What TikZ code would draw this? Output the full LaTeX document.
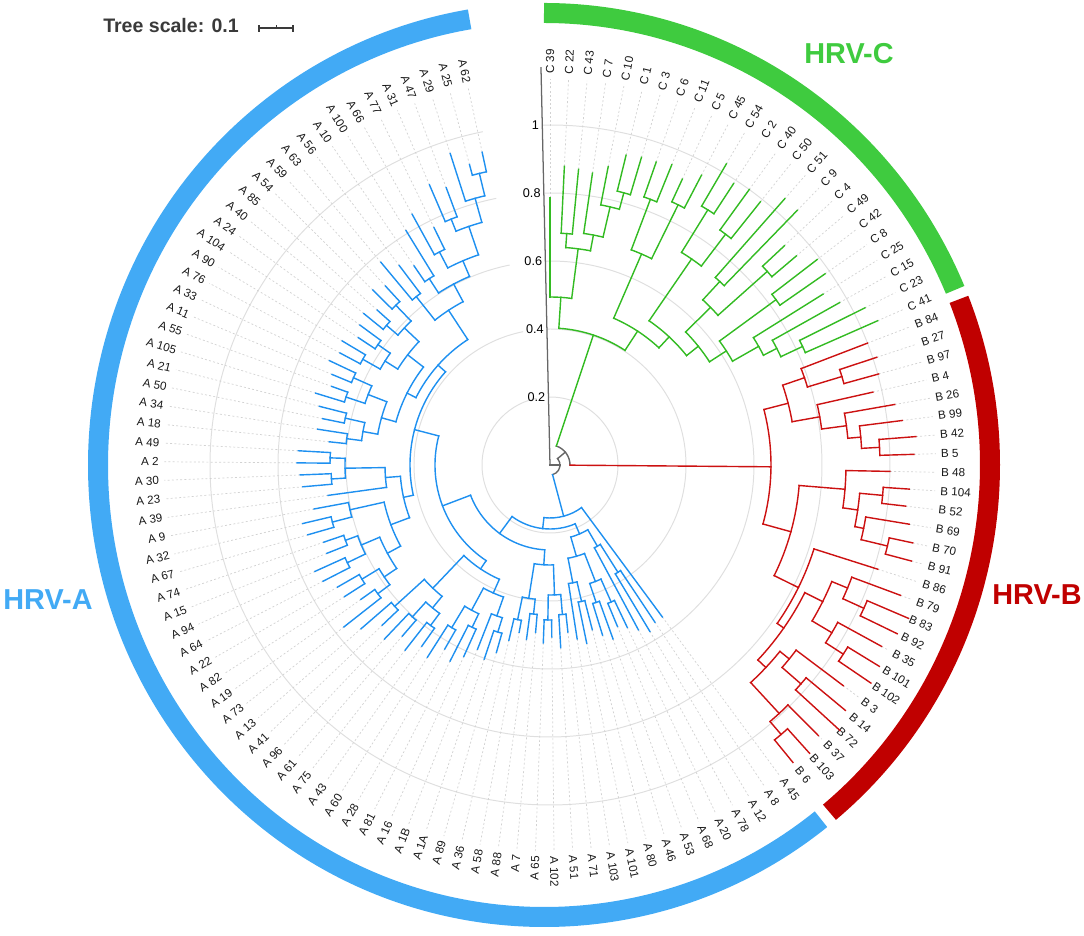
\documentclass[tikz,border=0pt]{standalone}
\usepackage{fontspec}
\setmainfont{Liberation Sans}
\usetikzlibrary{calc}
\definecolor{hrvablue}{HTML}{42AAF5}
\definecolor{hrvabranch}{HTML}{1E90F0}
\definecolor{hrvcgreen}{HTML}{3FCB3F}
\definecolor{hrvcbranch}{HTML}{33BB22}
\definecolor{hrvbred}{HTML}{C00000}
\definecolor{hrvbbranch}{HTML}{CC1111}
\definecolor{scalegrey}{HTML}{3A3A3A}

\begin{document}
\begin{tikzpicture}[scale=0.025,
      branch/.style={line width=1pt, line cap=rect},
      ring/.style={gray!25, line width=0.7pt},
      leader/.style={gray!35, line width=0.5pt, dash pattern=on 1.4pt off 1.6pt},
      leaf/.style={font=\fontsize{8.3}{10}\selectfont, inner sep=0pt, text=black!90},
      axislab/.style={font=\fontsize{9}{11}\selectfont, inner sep=0pt, anchor=east},
      band/.style={line width=0.5cm},
      cladelab/.style={font=\bfseries\fontsize{20.5}{24}\selectfont, inner sep=0pt}]
    \useasboundingbox (-550,-471) rectangle (534,465);

    % distance rings and axis
    \foreach \r in {68,136,204,272,340}
      \draw[ring] (91.3:\r) arc[start angle=91.3, end angle=-258.6, radius=\r];
    \draw[gray!80!black, line width=0.9pt] (0,0) -- (91.3:398);
    \foreach \v/\r in {0.2/68, 0.4/136, 0.6/204, 0.8/272, 1/340} {
      \pgfmathsetmacro\lx{-0.0227*\r-3}
      \node[axislab] (tick\r) at (\lx,\r) {\v};
    }

    % leaves: leader lines and labels
    \foreach \i/\n/\t in {0/C 39/267, 1/C 22/299, 2/C 43/297, 3/C 7/295, 4/C 10/304, 5/C 1/319, 6/C 3/321, 7/C 6/321, 8/C 11/324, 9/C 5/315, 10/C 45/327, 11/C 54/349, 12/C 2/336, 13/C 40/340, 14/C 50/337, 15/C 51/355, 16/C 9/355, 17/C 4/321, 18/C 49/323, 19/C 42/337, 20/C 8/335, 21/C 25/322, 22/C 15/332, 23/C 23/352, 24/C 41/358,
      25/B 84/340, 26/B 27/344, 27/B 97/341, 28/B 4/331, 29/B 26/350, 30/B 99/355, 31/B 42/367, 32/B 5/364, 33/B 48/340, 34/B 104/360, 35/B 52/358, 36/B 69/364, 37/B 70/371, 38/B 91/374, 39/B 86/344, 40/B 79/374, 41/B 83/390, 42/B 92/386, 43/B 35/378, 44/B 101/386, 45/B 102/388, 46/B 3/367, 47/B 14/384, 48/B 72/393, 49/B 37/381, 50/B 103/388, 51/B 6/384,
      52/A 45/189, 53/A 8/189, 54/A 12/194, 55/A 78/187, 56/A 20/180, 57/A 68/175, 58/A 53/185, 59/A 46/178, 60/A 80/170, 61/A 101/182, 62/A 103/176, 63/A 71/168, 64/A 51/183, 65/A 102/172, 66/A 65/178, 67/A 7/168, 68/A 88/176, 69/A 58/170, 70/A 36/180,
      71/A 89/195, 72/A 1A/205, 73/A 1B/198, 74/A 16/210, 75/A 81/220, 76/A 28/212, 77/A 60/228, 78/A 43/222, 79/A 75/235, 80/A 61/226, 81/A 96/240, 82/A 41/232, 83/A 13/250,
      84/A 73/262, 85/A 19/232, 86/A 82/244, 87/A 22/245, 88/A 64/255, 89/A 94/258, 90/A 15/240, 91/A 74/239, 92/A 67/252, 93/A 32/254, 94/A 9/240, 95/A 39/224, 96/A 23/248, 97/A 30/250, 98/A 2/253, 99/A 49/252,
      100/A 18/222, 101/A 34/235, 102/A 50/232, 103/A 21/238, 104/A 105/245, 105/A 55/232, 106/A 11/236, 107/A 33/244, 108/A 76/238, 109/A 90/242, 110/A 104/230, 111/A 24/236, 112/A 40/240, 113/A 85/232, 114/A 54/249, 115/A 59/243,
      116/A 63/264, 117/A 56/250, 118/A 10/241, 119/A 100/275, 120/A 66/286, 121/A 77/264, 122/A 31/305, 123/A 47/296, 124/A 29/327, 125/A 25/311, 126/A 62/320} {
      \pgfmathsetmacro\a{90-2.76*\i}
      \ifdim\t pt<384pt \draw[leader] (\a:\t) -- (\a:386); \fi
      \ifdim\a pt<-90pt
        \pgfmathsetmacro\rot{\a+180}
        \node[leaf, rotate=\rot, anchor=east] (leaf\i) at (\a:391) {\n};
      \else
        \node[leaf, rotate=\a, anchor=west] (leaf\i) at (\a:391) {\n};
      \fi
    }

    % root
    \draw[branch, gray!80!black] (0,0) -- (0:10);
    \draw[branch, gray!80!black] (-75.05:10) arc[start angle=-75.05, end angle=40, radius=10];
    \draw[branch, gray!80!black] (40:10) -- (40:20);
    \draw[branch, gray!80!black] (71.54:20) arc[start angle=71.54, end angle=-0.47, radius=20];

    % HRV-C
    \foreach \p/\r/\s in {1/232/299, 2/232/297, 5/282/319, 6/282/321, 4/265/304, 5.5/265/282, 3/234/295, 4.75/234/265, 1.5/218/232, 3.875/218/234, 0/168/267, 2.6875/168/218, 7/284/321, 8/284/324, 9/290/315, 10/290/327, 7.5/230/284, 9.5/230/290, 11/300/349, 12/300/336, 13/290/340, 14/290/337, 11.5/250/300, 13.5/250/290, 15/250/355, 16/250/355, 17/291/321, 18/291/323, 15.5/225/250, 17.5/225/291, 19/280/337, 20/280/335, 23/279/352, 24/279/358, 22/255/332, 23.5/255/279, 21/240/322, 22.75/240/255, 19.5/210/280, 21.875/210/240, 16.5/190/225, 20.6875/190/210, 12.5/175/250, 18.59/175/190, 8.5/160/230, 15.55/160/175, 1.34/137/168, 12.03/137/160, 6.69/20/137} {
      \pgfmathsetmacro\a{90-2.76*\p}
      \draw[branch, hrvcbranch] (\a:\r) -- (\a:\s);
    }
    \foreach \r/\p/\q in {232/1/2, 282/5/6, 265/4/5.5, 234/3/4.75, 218/1.5/3.875, 168/0/2.6875, 284/7/8, 290/9/10, 230/7.5/9.5, 300/11/12, 290/13/14, 250/11.5/13.5, 250/15/16, 291/17/18, 225/15.5/17.5, 280/19/20, 279/23/24, 255/22/23.5, 240/21/22.75, 210/19.5/21.875, 190/16.5/20.6875, 175/12.5/18.59, 160/8.5/15.55, 137/1.34/12.03} {
      \pgfmathsetmacro\a{90-2.76*\p}
      \pgfmathsetmacro\b{90-2.76*\q}
      \draw[branch, hrvcbranch] (\a:\r) arc[start angle=\a, end angle=\b, radius=\r];
    }

    % HRV-B
    \foreach \p/\r/\s in {26/305/344, 27/305/341, 25/269/340, 26.5/269/305, 31/330/367, 32/330/364, 30/312/355, 31.5/312/330, 29/299/350, 30.75/299/312, 28/274/331, 29.875/274/299, 25.75/246/269, 28.9375/246/274, 34/334/360, 35/334/358, 37/347/371, 38/347/374, 36/320/364, 37.5/320/347, 34.5/311/334, 36.75/311/320, 33/296/340, 35.625/296/311, 41/345/390, 42/345/386, 40/322/374, 41.5/322/345, 44/349/386, 45/349/388, 43/328/378, 44.5/328/349, 40.75/305/322, 43.75/305/328, 47/333/384, 48/333/393, 46/308/367, 47.5/308/333, 50/355/388, 51/355/384, 49/338/381, 50.5/338/355, 46.75/296/308, 49.75/296/338, 42.25/285/305, 48.25/285/296, 39/277/344, 45.25/277/285, 34.3125/250/296, 42.125/250/277, 27.34/221/246, 38.22/221/250, 32.78/20/221} {
      \pgfmathsetmacro\a{90-2.76*\p}
      \draw[branch, hrvbbranch] (\a:\r) -- (\a:\s);
    }
    \foreach \r/\p/\q in {305/26/27, 269/25/26.5, 330/31/32, 312/30/31.5, 299/29/30.75, 274/28/29.875, 246/25.75/28.9375, 334/34/35, 347/37/38, 320/36/37.5, 311/34.5/36.75, 296/33/35.625, 345/41/42, 322/40/41.5, 349/44/45, 328/43/44.5, 305/40.75/43.75, 333/47/48, 308/46/47.5, 355/50/51, 338/49/50.5, 296/46.75/49.75, 285/42.25/48.25, 277/39/45.25, 250/34.3125/42.125, 221/27.34/38.22} {
      \pgfmathsetmacro\a{90-2.76*\p}
      \pgfmathsetmacro\b{90-2.76*\q}
      \draw[branch, hrvbbranch] (\a:\r) arc[start angle=\a, end angle=\b, radius=\r];
    }

    % HRV-A
    \foreach \p/\r/\s in {53/127/189, 54/127/194, 53.5/94/127, 55/94/187, 56/150/180, 57/150/175, 58/145/185, 59/145/178, 56.5/125/150, 58.5/125/145, 60/140/170, 61/140/182, 60.5/120/140, 62/120/176, 57.5/95/125, 61.25/95/120, 54.25/75/94, 59.375/75/95,
        63/150/168, 64/150/183, 65/155/172, 66/155/178, 63.5/130/150, 65.5/130/155, 67/150/168, 68/150/176, 69/158/170, 70/158/180, 67.5/135/150, 69.5/135/158, 64.5/100/130, 68.5/100/135,
        71/175/195, 72/175/205, 71.5/160/175, 73/160/198, 74/180/210, 75/180/220, 76/190/212, 77/190/228, 74.5/165/180, 76.5/165/190, 72.25/140/160, 75.5/140/165, 78/200/222, 79/200/235, 80/205/226, 81/205/240, 78.5/185/200, 80.5/185/205, 82/210/232, 83/210/250, 79.5/170/185, 82.5/170/210, 73.875/125/140, 81/125/170,
        84/215/262, 85/215/232, 86/220/244, 87/220/245, 84.5/200/215, 86.5/200/220, 88/225/255, 89/225/258, 90/218/240, 91/218/239, 88.5/205/225, 90.5/205/218, 85.5/185/200, 89.5/185/205, 92/225/252, 93/225/254, 92.5/205/225, 94/205/240, 87.5/170/185, 93.25/170/205, 96/219/248, 97/219/250, 98/220/253, 99/220/252, 96.5/205/219, 98.5/205/220, 95/165/224, 97.5/165/205, 90.375/150/170, 96.25/150/165,
        100/205/222, 101/205/235, 102/210/232, 103/210/238, 100.5/190/205, 102.5/190/210, 104/215/245, 105/215/232, 106/215/236, 107/215/244, 104.5/195/215, 106.5/195/215, 101.5/175/190, 105.5/175/195, 108/215/238, 109/215/242, 110/210/230, 111/210/236, 108.5/195/215, 110.5/195/210, 112/215/240, 113/215/232, 114/222/249, 115/222/243, 112.5/200/215, 114.5/200/222, 109.5/180/195, 113.5/180/200, 103.5/160/175, 111.5/160/180,
        125/300/311, 126/300/320, 124/277/327, 125.5/277/300, 122/265/305, 123/265/296, 122.5/252/265, 124.75/252/277, 120/240/286, 121/240/264, 120.5/222/240, 123.625/222/252, 118/222/241, 119/222/275, 118.5/205/222, 122.0625/205/222, 116/215/264, 117/215/250, 116.5/185/215, 120.28/185/205, 107.5/150/160, 118.39/150/185,
        93.3125/140/150, 112.945/140/150, 77.4375/115/125, 103.13/115/140, 66.5/85/100, 90.28/85/115, 56.8125/64/75, 78.39/64/85, 52/53/189, 67.6/53/64, 59.8/10/53} {
      \pgfmathsetmacro\a{90-2.76*\p}
      \draw[branch, hrvabranch] (\a:\r) -- (\a:\s);
    }
    \foreach \r/\p/\q in {127/53/54, 94/53.5/55, 150/56/57, 145/58/59, 125/56.5/58.5, 140/60/61, 120/60.5/62, 95/57.5/61.25, 75/54.25/59.375,
        150/63/64, 155/65/66, 130/63.5/65.5, 150/67/68, 158/69/70, 135/67.5/69.5, 100/64.5/68.5,
        175/71/72, 160/71.5/73, 180/74/75, 190/76/77, 165/74.5/76.5, 140/72.25/75.5, 200/78/79, 205/80/81, 185/78.5/80.5, 210/82/83, 170/79.5/82.5, 125/73.875/81,
        215/84/85, 220/86/87, 200/84.5/86.5, 225/88/89, 218/90/91, 205/88.5/90.5, 185/85.5/89.5, 225/92/93, 205/92.5/94, 170/87.5/93.25, 219/96/97, 220/98/99, 205/96.5/98.5, 165/95/97.5, 150/90.375/96.25,
        205/100/101, 210/102/103, 190/100.5/102.5, 215/104/105, 215/106/107, 195/104.5/106.5, 175/101.5/105.5, 215/108/109, 210/110/111, 195/108.5/110.5, 215/112/113, 222/114/115, 200/112.5/114.5, 180/109.5/113.5, 160/103.5/111.5,
        300/125/126, 277/124/125.5, 265/122/123, 252/122.5/124.75, 240/120/121, 222/120.5/123.625, 222/118/119, 205/118.5/122.0625, 215/116/117, 185/116.5/120.28, 150/107.5/118.39,
        140/93.3125/112.945, 115/77.4375/103.13, 85/66.5/90.28, 64/56.8125/78.39, 53/52/67.6} {
      \pgfmathsetmacro\a{90-2.76*\p}
      \pgfmathsetmacro\b{90-2.76*\q}
      \draw[branch, hrvabranch] (\a:\r) arc[start angle=\a, end angle=\b, radius=\r];
    }

    % clade bands
    \coordinate (bandc) at (-6,0);
    \draw[band, hrvcgreen] ($(bandc)+(90:446 and 452)$) arc[start angle=90, end angle=22.8, x radius=446, y radius=452];
    \draw[band, hrvbred] ($(bandc)+(21.5:446 and 452)$) arc[start angle=21.5, end angle=-50.2, x radius=446, y radius=452];
    \draw[band, hrvablue] ($(bandc)+(-51.6:446 and 452)$) arc[start angle=-51.6, end angle=-260.4, x radius=446, y radius=452];
    \node[cladelab, text=hrvcgreen] (labC) at (299,411) {HRV-C};
    \node[cladelab, text=hrvbred] (labB) at (487,-130) {HRV-B};
    \node[cladelab, text=hrvablue] (labA) at (-502,-135) {HRV-A};

    % tree scale
    \node[font=\bfseries\fontsize{13.9}{16}\selectfont, text=scalegrey, inner sep=0pt, anchor=west] (scale) at (-447,439) {Tree scale: 0.1};
    \coordinate (sb0) at (-291,437);
    \coordinate (sb1) at (-257,437);
    \draw[scalegrey, line width=1pt] (sb0) -- (sb1);
    \draw[scalegrey, line width=1pt] (sb0) ++(0,-3.5) -- ++(0,7);
    \draw[scalegrey, line width=1pt] (sb1) ++(0,-3.5) -- ++(0,7);
    \draw[scalegrey, line width=0.8pt] ($(sb0)!0.5!(sb1)$) -- ++(0,3);
\end{tikzpicture}
\end{document}
